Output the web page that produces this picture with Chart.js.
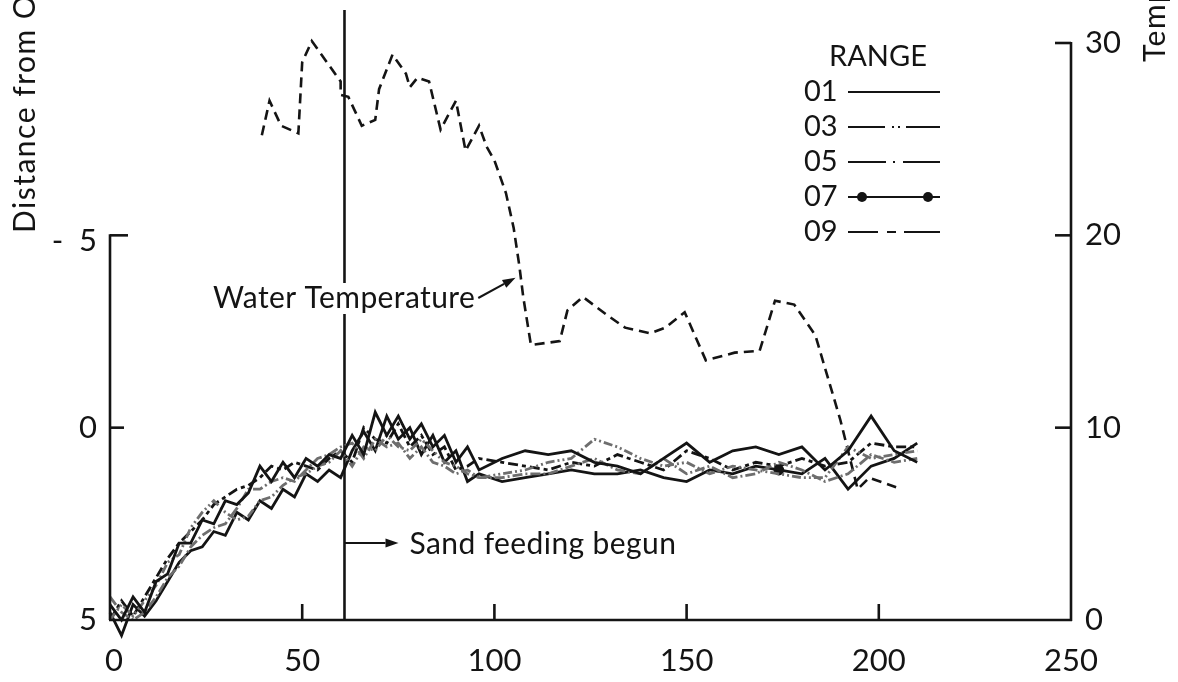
<!DOCTYPE html>
<html>
<head>
<meta charset="utf-8">
<script src="https://cdn.jsdelivr.net/npm/chart.js@4/dist/chart.umd.min.js"></script>
<style>
  html, body { margin: 0; padding: 0; background: #fff; }
  canvas { display: block; }
</style>
</head>
<body>
<canvas id="shoreChart" width="1178" height="682"></canvas>
<script>
// survey days for the five ranges
const surveyDays = [0, 3, 6, 9, 12, 15, 18, 21, 24, 27, 30, 33, 36, 39, 42, 45, 48, 51, 54, 57, 60,
  63, 66, 69, 72, 75, 78, 81, 84, 87, 90, 93, 96,
  102, 108, 114, 120, 126, 132, 138, 144, 150, 156, 162, 168, 174, 180, 186, 192, 198, 204, 210];

// distance from O for each range
const range01 = [4.6, 5.0, 4.4, 4.8, 4.0, 3.8, 3.0, 3.0, 2.4, 2.5, 1.9, 2.0, 1.7, 1.0, 1.4, 0.9, 1.3, 0.8, 1.0, 0.7, 0.8,
  0.2, 0.7, -0.4, 0.2, -0.3, 0.3, -0.1, 0.5, 0.2, 0.9, 0.5, 1.1,
  0.8, 0.6, 0.7, 0.6, 0.9, 1.0, 1.2, 0.8, 0.4, 0.9, 0.6, 0.5, 0.7, 0.5, 1.1, 0.6, -0.3, 0.6, 0.9];
const range03 = [5.0, 4.6, 4.9, 4.5, 4.1, 3.5, 3.3, 2.6, 2.2, 1.9, 2.2, 2.4, 2.3, 1.9, 1.8, 1.5, 1.3, 1.2, 1.0, 0.9, 0.6,
  1.0, 0.5, 0.6, 0.2, 0.5, 0.6, 0.3, 0.6, 0.9, 1.0, 1.2, 1.3,
  1.2, 1.1, 0.9, 0.8, 0.3, 0.5, 0.8, 1.0, 0.9, 1.2, 1.0, 1.1, 1.2, 1.3, 1.3, 0.5, 0.8, 0.7, 0.6];
const range05 = [4.4, 4.8, 5.0, 4.8, 4.4, 3.9, 3.6, 3.1, 2.8, 2.6, 2.5, 2.1, 1.6, 1.6, 1.4, 1.3, 1.4, 1.1, 0.8, 0.7, 0.5,
  0.4, 0.8, 0.3, 0.5, 0.4, 0.8, 0.5, 0.9, 1.0, 1.2, 1.1, 1.3,
  1.3, 1.2, 1.2, 1.0, 0.8, 1.1, 1.2, 0.8, 1.2, 1.0, 1.3, 1.2, 0.9, 1.1, 1.4, 1.2, 0.7, 0.9, 0.8];
const range07 = [4.8, 5.4, 4.6, 4.9, 4.5, 4.0, 3.5, 3.2, 3.1, 2.7, 2.8, 2.2, 2.4, 1.9, 2.1, 1.6, 1.8, 1.2, 1.4, 1.1, 1.3,
  0.6, 0.1, 0.6, -0.3, 0.3, 0.0, 0.7, 0.2, 0.9, 0.6, 1.4, 1.2,
  1.4, 1.3, 1.2, 1.1, 1.2, 1.2, 1.1, 1.3, 1.4, 1.1, 1.2, 1.0, 1.1, 1.2, 0.8, 1.6, 1.0, 0.8, 0.4];
const range09 = [5.0, 4.5, 4.9, 4.4, 3.9, 3.4, 3.0, 2.7, 2.4, 2.0, 1.8, 1.6, 1.5, 1.3, 1.0, 1.1, 0.9, 1.0, 1.1, 0.8, 0.6,
  0.9, 0.0, 0.3, 0.4, -0.1, 0.5, 0.2, 0.7, 0.5, 1.1, 1.0, 0.8,
  0.9, 1.0, 1.1, 0.9, 1.0, 0.7, 0.9, 1.1, 0.6, 0.8, 1.1, 0.9, 1.0, 0.8, 1.0, 0.9, 0.4, 0.5, 0.5];

// water temperature record
const tempDays = [39.5, 41.5, 44.5, 49, 50, 52.5, 60, 60, 62, 65.5, 69, 70, 73.5, 77, 78, 80, 83, 86, 90, 92.5,
  96, 98, 100, 103, 105, 106.5, 107.5, 109.5, 117, 119, 123, 129, 134, 140.5, 144.5, 149.5,
  155, 162.5, 169, 173, 178, 183.5, 190, 194.5, 197.5, 204.5];
const tempValues = [25.2, 27.0, 25.7, 25.3, 29.0, 30.1, 28.0, 27.3, 27.2, 25.7, 26.0, 27.6, 29.4, 28.4, 27.7, 28.2, 28.0, 25.5, 27.0, 24.4,
  25.7, 24.6, 23.9, 22.2, 20.4, 18.4, 16.8, 14.3, 14.5, 16.1, 16.8, 15.9, 15.2, 14.9, 15.2, 16.0,
  13.5, 13.9, 14.0, 16.6, 16.4, 14.8, 10.4, 6.8, 7.4, 6.9];

const rangeNames = ['01', '03', '05', '07', '09'];
const sandFeedDay = 61;

// tick labels
const dayTicks = [0, 50, 100, 150, 200, 250];
const distTicks = [-5, 0, 5];
const distTickLabels = ['-  5', '0', '5'];
const tempTicks = [0, 10, 20, 30];

const ink = '#141414';
const grey = '#6e6e6e';
const font = '"Lato", "DejaVu Sans", sans-serif';

// line styles in the plot, and the longer ones used in the key
const rangeStyles = [
  { color: ink,  dash: [],                   keyDash: [] },
  { color: grey, dash: [9, 3, 2, 3, 2, 3],   keyDash: [37, 7, 2, 4, 2, 6, 40] },
  { color: grey, dash: [10, 3, 2, 3],        keyDash: [38, 7, 2, 8, 40] },
  { color: ink,  dash: [],                   keyDash: [] },
  { color: ink,  dash: [10, 4, 4, 4],        keyDash: [30, 9, 9, 8, 40] }
];
const rangeData = [range01, range03, range05, range07, range09];

const datasets = rangeData.map((vals, i) => ({
  label: rangeNames[i],
  data: vals.map((v, k) => ({ x: surveyDays[k], y: v })),
  yAxisID: 'yD',
  borderColor: rangeStyles[i].color,
  backgroundColor: rangeStyles[i].color,
  borderWidth: 2.8,
  borderDash: rangeStyles[i].dash,
  pointRadius: rangeNames[i] === '07' ? (c => (c.dataIndex === 45 ? 4 : 0)) : 0,
  tension: 0,
  clip: false
}));

datasets.push({
  label: 'Water Temperature',
  data: tempValues.map((v, k) => ({ x: tempDays[k], y: v })),
  yAxisID: 'yT',
  borderColor: ink,
  borderWidth: 2.6,
  borderDash: [10, 6],
  pointRadius: 0,
  tension: 0,
  clip: false
});

function seg(ctx, x1, y1, x2, y2) {
  ctx.beginPath();
  ctx.moveTo(x1, y1);
  ctx.lineTo(x2, y2);
  ctx.stroke();
}

function arrow(ctx, x1, y1, x2, y2) {
  const ang = Math.atan2(y2 - y1, x2 - x1);
  const len = 13, half = 4.5;
  const bx = x2 - len * Math.cos(ang), by = y2 - len * Math.sin(ang);
  seg(ctx, x1, y1, bx, by);
  ctx.beginPath();
  ctx.moveTo(x2, y2);
  ctx.lineTo(bx - half * Math.sin(ang), by + half * Math.cos(ang));
  ctx.lineTo(bx + half * Math.sin(ang), by - half * Math.cos(ang));
  ctx.closePath();
  ctx.fill();
}

// sand feeding marker sits under the profiles
const feedLine = {
  id: 'feedLine',
  beforeDatasetsDraw(chart) {
    const { ctx, chartArea: a, scales: { x } } = chart;
    const px = x.getPixelForValue(sandFeedDay);
    ctx.save();
    ctx.strokeStyle = ink;
    ctx.lineWidth = 2.6;
    seg(ctx, px, 10, px, a.bottom);
    ctx.restore();
  }
};

// axes, labels, notes and key
const frame = {
  id: 'frame',
  afterDatasetsDraw(chart) {
    const { ctx, chartArea: a, scales: { x, yD, yT } } = chart;
    ctx.save();
    ctx.strokeStyle = ink;
    ctx.fillStyle = ink;
    ctx.lineWidth = 2.6;
    ctx.lineCap = 'butt';

    // bottom axis
    seg(ctx, a.left - 1, a.bottom, a.right + 1, a.bottom);
    ctx.font = '31px ' + font;
    ctx.textAlign = 'center';
    ctx.textBaseline = 'middle';
    dayTicks.forEach(v => {
      const px = x.getPixelForValue(v);
      if (v > 0 && v < 250) seg(ctx, px, a.bottom, px, a.bottom - 16);
      ctx.fillText(String(v), px + (v === 0 ? 4 : 0), a.bottom + 41);
    });

    // distance axis, drawn from -5 down
    const yTop = yD.getPixelForValue(-5);
    seg(ctx, a.left, yTop - 1, a.left, a.bottom);
    ctx.textAlign = 'right';
    distTicks.forEach((v, i) => {
      const py = yD.getPixelForValue(v);
      if (v < 5) seg(ctx, a.left, py, a.left + (v === -5 ? 18 : 14), py);
      ctx.fillText(distTickLabels[i], a.left - 13, py + (v === -5 ? 6 : 0));
    });

    // temperature axis
    seg(ctx, a.right, a.top - 1, a.right, a.bottom + 1);
    ctx.textAlign = 'left';
    tempTicks.forEach(v => {
      const py = yT.getPixelForValue(v);
      if (v > 0) seg(ctx, a.right, py, a.right - 16, py);
      ctx.fillText(String(v), a.right + 14, py);
    });

    // axis titles
    ctx.font = '30px ' + font;
    ctx.letterSpacing = '1.5px';
    ctx.textBaseline = 'alphabetic';
    ctx.save();
    ctx.translate(35, 233);
    ctx.rotate(-Math.PI / 2);
    ctx.textAlign = 'left';
    ctx.fillText('Distance from Origin (ft)', 0, 0);
    ctx.restore();
    ctx.save();
    ctx.translate(1165, 62);
    ctx.rotate(-Math.PI / 2);
    ctx.textAlign = 'left';
    ctx.fillText('Temperature (°C)', 0, 0);
    ctx.restore();

    // water temperature note
    const feedX = x.getPixelForValue(sandFeedDay);
    ctx.font = '30px ' + font;
    ctx.letterSpacing = '0.4px';
    ctx.textAlign = 'left';
    ctx.textBaseline = 'alphabetic';
    const noteX = 213, noteY = 308;
    const noteW = ctx.measureText('Water Temperature').width;
    ctx.fillStyle = '#fff';
    ctx.fillRect(feedX - 6, noteY - 25, 14, 31);
    ctx.fillStyle = ink;
    ctx.fillText('Water Temperature', noteX, noteY);
    ctx.lineWidth = 2;
    arrow(ctx, noteX + noteW + 3, noteY - 10, x.getPixelForValue(105.5), yT.getPixelForValue(17.8));

    // sand feeding note
    const feedY = yD.getPixelForValue(3);
    arrow(ctx, feedX, feedY, feedX + 54, feedY);
    ctx.textBaseline = 'middle';
    ctx.fillText('Sand feeding begun', feedX + 65, feedY + 1);

    // key
    ctx.font = '29px ' + font;
    ctx.letterSpacing = '0px';
    ctx.textAlign = 'center';
    ctx.fillText('RANGE', 878, 57);
    const rows = [92, 127, 162, 197, 232];
    rangeNames.forEach((name, i) => {
      const py = rows[i];
      ctx.textAlign = 'left';
      ctx.fillStyle = ink;
      ctx.fillText(name, 804, py);
      ctx.lineWidth = 2;
      ctx.setLineDash(rangeStyles[i].keyDash);
      seg(ctx, 848, py, 940, py);
      ctx.setLineDash([]);
      if (name === '07') {
        [862, 928].forEach(cx => {
          ctx.beginPath();
          ctx.arc(cx, py, 5, 0, Math.PI * 2);
          ctx.fill();
        });
      }
    });
    ctx.restore();
  }
};

new Chart(document.getElementById('shoreChart'), {
  type: 'line',
  data: { datasets },
  options: {
    responsive: false,
    animation: false,
    events: [],
    layout: { padding: { left: 110, right: 107, top: 43, bottom: 62 } },
    plugins: { legend: { display: false }, tooltip: { enabled: false } },
    scales: {
      x: { type: 'linear', min: 0, max: 250, display: false },
      yD: { type: 'linear', min: -10, max: 5, reverse: true, display: false },
      yT: { type: 'linear', min: 0, max: 30, display: false }
    }
  },
  plugins: [feedLine, frame]
});
</script>
</body>
</html>
